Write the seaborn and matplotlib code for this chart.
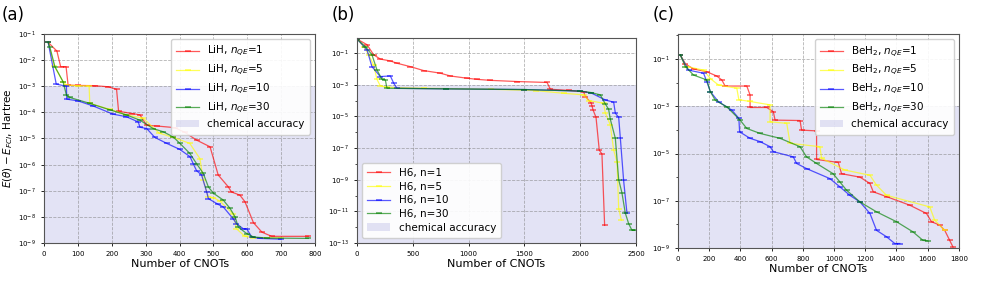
import numpy as np
import pandas as pd
import matplotlib
matplotlib.use('Agg')
import matplotlib.pyplot as plt
import seaborn as sns
from matplotlib.ticker import LogLocator, FixedLocator

# ---- panel (a): LiH ----
lih_labels = [r'LiH, $n_{QE}$=1', r'LiH, $n_{QE}$=5', r'LiH, $n_{QE}$=10', r'LiH, $n_{QE}$=30']
lih_x = [
    [12, 38, 49, 65, 71, 100, 150, 190, 214, 220, 260, 283, 303, 333, 386, 416, 450, 490, 514, 544, 553, 578, 593, 618, 643, 672, 780],
    [12, 30, 56, 66, 100, 133, 135, 194, 243, 293, 340, 381, 430, 460, 470, 485, 500, 519, 558, 568, 593, 618, 700],
    [12, 36, 66, 67, 100, 145, 204, 243, 278, 283, 303, 327, 362, 401, 431, 440, 450, 465, 480, 485, 514, 529, 558, 568, 588, 598, 613, 637, 700],
    [12, 17, 32, 56, 66, 76, 135, 194, 243, 283, 322, 352, 381, 401, 430, 450, 470, 485, 500, 529, 549, 564, 573, 598, 618, 657, 780],
]
lih_y = [
    [4.8e-2, 2.2e-2, 5.6e-3, 5.6e-3, 1.1e-3, 1.07e-3, 1.05e-3, 9.5e-4, 7.6e-4, 1.1e-4, 9e-5, 8e-5, 3.2e-5, 3e-5, 2.6e-5, 1.7e-5, 8.7e-6, 4.8e-6, 4e-7, 1.4e-7, 9e-8, 6.8e-8, 3.8e-8, 6e-9, 2.6e-9, 1.8e-9, 1.8e-9],
    [4.8e-2, 6e-3, 1.5e-3, 1.1e-3, 1.05e-3, 1e-3, 2.2e-4, 1.3e-4, 8e-5, 5.9e-5, 1.6e-5, 1.1e-5, 6.5e-6, 1.7e-6, 2.5e-7, 5.8e-8, 5.5e-8, 4e-8, 1.3e-8, 3.5e-9, 1.8e-9, 1.6e-9, 1.55e-9],
    [4.8e-2, 1.2e-3, 1.0e-3, 3.2e-4, 2.75e-4, 1.75e-4, 8.5e-5, 6.8e-5, 4.3e-5, 2.7e-5, 2.4e-5, 1.1e-5, 6.5e-6, 3.8e-6, 2e-6, 1.1e-6, 5.9e-7, 4e-7, 9e-8, 5e-8, 3e-8, 2.4e-8, 8.5e-9, 5.5e-9, 3.5e-9, 3.5e-9, 1.7e-9, 1.5e-9, 1.4e-9],
    [4.8e-2, 3.2e-2, 5.6e-3, 1.5e-3, 4.6e-4, 3.7e-4, 2.2e-4, 1.25e-4, 8e-5, 5e-5, 2.4e-5, 1.8e-5, 1.15e-5, 6.5e-6, 2.7e-6, 1.1e-6, 4.6e-7, 1.4e-7, 8e-8, 4.4e-8, 2.1e-8, 1e-8, 4.1e-9, 2.3e-9, 1.7e-9, 1.55e-9, 1.5e-9],
]

# ---- panel (b): H6 ----
h6_labels = ['H6, n=1', 'H6, n=5', 'H6, n=10', 'H6, n=30']
h6_x = [
    [0, 90, 149, 209, 299, 358, 478, 597, 747, 836, 985, 1075, 1195, 1434, 1703, 1733, 1900, 2031, 2046, 2097, 2106, 2115, 2142, 2171, 2195, 2219],
    [0, 60, 105, 149, 179, 209, 269, 600, 1200, 1600, 1852, 2031, 2076, 2210, 2225, 2270, 2300, 2330, 2345, 2369],
    [0, 90, 134, 209, 299, 329, 358, 800, 1500, 2000, 2100, 2225, 2300, 2315, 2345, 2360, 2389, 2419],
    [0, 75, 134, 179, 224, 254, 269, 800, 1500, 2000, 2100, 2180, 2225, 2255, 2270, 2315, 2345, 2374, 2404, 2434, 2464, 2490],
]
h6_y = [
    [0.78, 0.34, 7.9e-2, 4.2e-2, 3.2e-2, 2.3e-2, 1.4e-2, 7.9e-3, 5.4e-3, 3.6e-3, 2.6e-3, 2.2e-3, 1.9e-3, 1.6e-3, 1.4e-3, 5.2e-4, 4.4e-4, 3.6e-4, 1.8e-4, 7.4e-5, 4.6e-5, 2.6e-5, 8.7e-6, 7.4e-8, 4.2e-8, 1.3e-12],
    [0.78, 0.26, 7.9e-2, 1.8e-2, 2.2e-3, 8.5e-4, 6.9e-4, 6e-4, 5.2e-4, 4.3e-4, 2.9e-4, 2.3e-4, 1e-4, 6.8e-5, 1.7e-5, 2.9e-6, 7.4e-8, 1.35e-8, 1.5e-11, 2.8e-12],
    [0.78, 0.16, 1.4e-2, 3.3e-3, 3.6e-3, 1.26e-3, 6e-4, 5.5e-4, 5e-4, 4e-4, 3e-4, 1.1e-4, 7.9e-5, 1.6e-5, 8.7e-6, 4.1e-7, 9.3e-10, 7.9e-12],
    [0.78, 0.26, 7.9e-2, 8.7e-3, 2.2e-3, 2e-3, 6e-4, 5.5e-4, 5e-4, 4e-4, 3.2e-4, 2.3e-4, 6.2e-5, 2.8e-5, 6.6e-6, 4.1e-7, 1e-9, 1.5e-10, 7.9e-12, 1.7e-12, 6.3e-13, 6.3e-13],
]

# ---- panel (c): BeH2 ----
beh2_labels = [r'BeH$_2$, $n_{QE}$=1', r'BeH$_2$, $n_{QE}$=5', r'BeH$_2$, $n_{QE}$=10', r'BeH$_2$, $n_{QE}$=30']
beh2_x = [
    [15, 47, 100, 185, 249, 281, 302, 441, 462, 462, 569, 611, 622, 782, 792, 888, 888, 1027, 1048, 1166, 1230, 1251, 1336, 1485, 1592, 1624, 1677, 1709, 1741, 1762],
    [15, 58, 164, 207, 260, 377, 390, 462, 590, 590, 697, 718, 909, 920, 1069, 1230, 1272, 1336, 1613, 1645, 1709],
    [15, 68, 164, 185, 207, 260, 345, 390, 395, 462, 526, 590, 611, 739, 760, 824, 973, 1037, 1101, 1166, 1230, 1272, 1336, 1389, 1421],
    [15, 47, 100, 185, 207, 239, 313, 398, 441, 526, 654, 782, 824, 888, 994, 1037, 1080, 1166, 1272, 1400, 1506, 1570, 1602],
]
beh2_y = [
    [0.148, 6.2e-2, 3.8e-2, 2.9e-2, 1.9e-2, 1.3e-2, 7.2e-3, 7.2e-3, 3e-3, 8.9e-4, 8.9e-4, 5.9e-4, 2.6e-4, 2.5e-4, 9.8e-5, 9.1e-5, 5.6e-6, 4.2e-6, 1.4e-6, 1e-6, 5.4e-7, 2.4e-7, 1.5e-7, 6.5e-8, 2.9e-8, 1.3e-8, 9.3e-9, 5.6e-9, 2.1e-9, 1.1e-9],
    [0.148, 4.8e-2, 3.4e-2, 1.5e-2, 7.9e-3, 5.8e-3, 1.9e-3, 1.6e-3, 1.15e-3, 2.2e-4, 1.9e-4, 2.7e-5, 1.95e-5, 6.3e-6, 2e-6, 1.2e-6, 4.6e-7, 1.7e-7, 5.5e-8, 1.5e-8, 5.6e-9],
    [0.148, 3.4e-2, 2.5e-2, 1.1e-2, 4.2e-3, 1.55e-3, 6.9e-4, 3.1e-4, 8.3e-5, 4.4e-5, 3.2e-5, 1.95e-5, 1.2e-5, 7.2e-6, 3.8e-6, 2.3e-6, 8.7e-7, 3.9e-7, 1.7e-7, 8.9e-8, 2.9e-8, 5.6e-9, 3e-9, 1.55e-9, 1.55e-9],
    [0.148, 4.8e-2, 2.1e-2, 1.3e-2, 4.2e-3, 1.8e-3, 9.5e-4, 2.6e-4, 1.15e-4, 7.1e-5, 4.4e-5, 1.95e-5, 7.2e-6, 3.8e-6, 1.4e-6, 6.3e-7, 2.8e-7, 8.9e-8, 3.4e-8, 1.3e-8, 4.8e-9, 2.1e-9, 2e-9],
]

colors = ['red', 'yellow', 'blue', 'green']
chem_acc = 1e-3


def draw_panel(ax, xs, ys, labels, xlim, xticks, ylim, ydecades, legend_loc):
    for x, y, lab, c in zip(xs, ys, labels, colors):
        sns.lineplot(x=x, y=y, ax=ax, color=c, label=lab, marker='_',
                     markersize=5, markeredgewidth=1.1, markeredgecolor=c,
                     markerfacecolor=c, linewidth=0.9,
                     alpha=0.65, sort=False, estimator=None)
    ax.set_yscale('log')
    ax.axhspan(ylim[0], chem_acc, color='#2020b0', alpha=0.12, lw=0,
               label='chemical accuracy')
    ax.set_xlim(*xlim)
    ax.set_ylim(*ylim)
    ax.set_xticks(xticks)
    ax.yaxis.set_major_locator(FixedLocator([10.0 ** d for d in ydecades]))
    ax.yaxis.set_minor_locator(LogLocator(base=10, subs=(1.0,), numticks=30))
    ax.yaxis.set_minor_formatter(matplotlib.ticker.NullFormatter())
    ax.tick_params(axis='both', labelsize=5, length=2.5, width=0.6)
    ax.tick_params(axis='y', which='minor', length=1.5, width=0.5)
    ax.grid(True, which='major', color='gray', linestyle='--', linewidth=0.6, alpha=0.6)
    ax.set_xlabel('Number of CNOTs', fontsize=8, labelpad=1)
    ax.set_ylabel('')
    for s in ax.spines.values():
        s.set_color('#555555')
        s.set_linewidth(0.8)
    ax.legend(loc=legend_loc, fontsize=7.5, handlelength=2.2, borderpad=0.5,
              labelspacing=0.35, framealpha=0.9)


fig = plt.figure(figsize=(9.81, 2.81), dpi=100)
ax_a = fig.add_axes([0.0449, 0.1352, 0.2763, 0.744])
ax_b = fig.add_axes([0.3639, 0.1352, 0.2844, 0.7295])
ax_c = fig.add_axes([0.6911, 0.1174, 0.2864, 0.7616])

draw_panel(ax_a, lih_x, lih_y, lih_labels, (0, 800), range(0, 801, 100),
           (1e-9, 1e-1), range(-9, 0), 'upper right')
draw_panel(ax_b, h6_x, h6_y, h6_labels, (0, 2500), range(0, 2501, 500),
           (1e-13, 0.9), range(-13, 0, 2), 'lower left')
draw_panel(ax_c, beh2_x, beh2_y, beh2_labels, (0, 1800), range(0, 1801, 200),
           (1e-9, 1.15), range(-9, 0, 2), 'upper right')

ax_a.set_ylabel(r'$E(\theta) - E_{FCI}$, Hartree', fontsize=7.5, labelpad=2)

fig.text(0.002, 0.93, '(a)', fontsize=12)
fig.text(0.338, 0.93, '(b)', fontsize=12)
fig.text(0.665, 0.93, '(c)', fontsize=12)

plt.savefig('out.png', dpi=100)
